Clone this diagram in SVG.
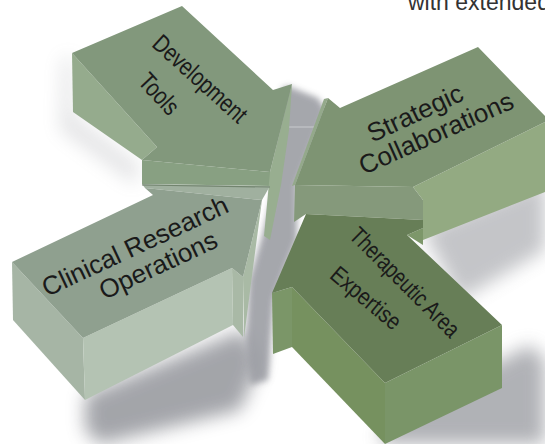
<svg xmlns="http://www.w3.org/2000/svg" width="545" height="444" viewBox="0 0 545 444">
<defs>
<filter id="blurL" x="-50%" y="-50%" width="200%" height="200%"><feGaussianBlur stdDeviation="9"/></filter>
<filter id="blurS" x="-50%" y="-50%" width="200%" height="200%"><feGaussianBlur stdDeviation="3"/></filter>
<style>
.lbl{font-family:"Liberation Sans",Arial,sans-serif;fill:#1a1a1a;text-anchor:middle;dominant-baseline:central}
.sh{fill:#7d7f86}
</style>
</defs>
<rect width="545" height="444" fill="#ffffff"/>
<g id="caption"><text x="408" y="10" font-family="Liberation Sans, Arial, sans-serif" font-size="23" fill="#333333">with extended</text></g>
<g id="shadows">
<polygon class="sh" opacity="0.2" filter="url(#blurL)" points="62,60 72,55 74,115 140,165 135,185 60,130"/>
<polygon class="sh" opacity="0.45" filter="url(#blurL)" points="423,230 545,180 545,250 460,300"/>
<polygon class="sh" opacity="0.6" filter="url(#blurL)" points="385,420 502,360 530,345 545,360 545,444 380,444"/>
<polygon class="sh" opacity="0.7" filter="url(#blurL)" points="85,395 243,330 262,360 240,410 100,444 85,430"/>
<polygon fill="#9c9ea4" opacity="0.9" filter="url(#blurS)" points="288,86 318,98 326,110 297,185 297,240 285,270 274,300 268,380 250,385 246,340 249,280 262,236 272,195 282,88"/>
<line x1="286" y1="127" x2="322" y2="127" stroke="#c9cbce" stroke-width="1.2"/>
</g>
<g id="dev-tools">
<polygon fill="#95ab8d" points="72,53 157,147 142,160 73,112"/>
<polygon fill="#88a082" points="142,160 270,172 270,186 142,184"/>
<polygon fill="#98ae90" points="292,84 289,130 281,185 270,240 264,236 270,172"/>
<polygon fill="#82987c" points="72,53 182,6 273,90 292,84 270,172 142,160 157,147"/>
<text class="lbl" font-size="25" transform="translate(200,79) rotate(42) scale(0.8,1)">Development</text>
<text class="lbl" font-size="25" transform="translate(159,94) rotate(47) scale(0.8,1)">Tools</text>
</g>
<g id="strategic">
<polygon fill="#93aa82" points="413,187 545,122 545,192 423,240 423,200"/>
<polygon fill="#85997b" points="295,185 413,187 423,200 423,220 306,214 294,222"/>
<polygon fill="#94a98b" points="328,98 295,185 292,186 324,99"/>
<polygon fill="#7e9473" points="295,185 328,98 340,108 478,47 545,116 545,122 413,187"/>
<text class="lbl" font-size="26" transform="translate(415,113) rotate(-25)">Strategic</text>
<text class="lbl" font-size="26" transform="translate(436,133) rotate(-24)">Collaborations</text>
</g>
<g id="clinical">
<polygon fill="#a6b5a5" points="12,262 83,338 85,400 13,320"/>
<polygon fill="#b4c3b3" points="83,338 232,268 233,325 85,400"/>
<polygon fill="#a9b9a6" points="232,268 243,277 243,337 233,325"/>
<polygon fill="#a9baa5" points="262,200 253,268 244,338 243,277"/>
<polygon fill="#a0b09f" points="142,184 270,186 262,200 145,188"/>
<line x1="142" y1="185" x2="270" y2="187" stroke="#72846f" stroke-width="1.2"/>
<polygon fill="#8fa08f" points="12,262 153,195 145,188 262,200 243,277 232,268 83,338"/>
<text class="lbl" font-size="26" transform="translate(135,246) rotate(-25)">Clinical Research</text>
<text class="lbl" font-size="26" transform="translate(158,265) rotate(-25)">Operations</text>
</g>
<g id="therapeutic">
<polygon fill="#76915f" points="292,287 385,383 385,444 292,347"/>
<polygon fill="#7b9668" points="272,293 292,287 292,347 273,354"/>
<polygon fill="#7a9568" points="385,383 502,325 502,388 385,444"/>
<polygon fill="#7d976a" points="407,235 423,228 423,245"/>
<polygon fill="#677e57" points="306,214 423,220 423,228 407,235 502,325 385,383 292,287 272,293"/>
<text class="lbl" font-size="24" transform="translate(405,282) rotate(45) scale(0.79,1)">Therapeutic Area</text>
<text class="lbl" font-size="24" transform="translate(366,298) rotate(40) scale(0.84,1)">Expertise</text>
</g>
</svg>
